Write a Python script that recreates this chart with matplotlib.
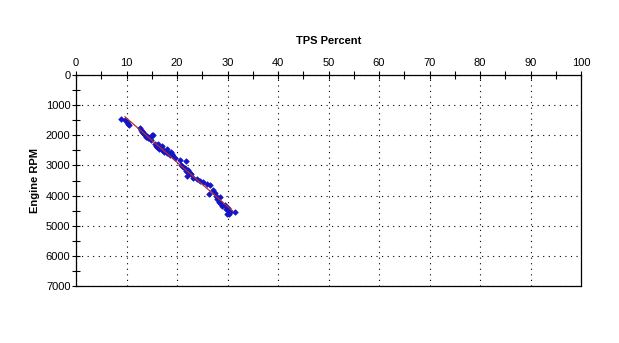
import numpy as np
import matplotlib
matplotlib.use("Agg")
import matplotlib.pyplot as plt
from matplotlib.ticker import MultipleLocator

tps = [8.9, 9.8, 10.0, 10.2, 10.4,
       12.6, 12.8, 13.0, 13.2, 13.4, 13.6, 13.8, 14.0, 14.3, 14.6, 15.0, 15.3, 14.8,
       15.6, 15.8, 16.0, 16.2, 16.5, 16.8, 17.0, 17.3, 17.5, 17.8, 18.0, 18.3, 18.6,
       19.0, 19.3, 19.6, 16.3, 17.0, 18.0, 18.8,
       20.6, 21.8, 20.8, 21.2, 21.5, 21.8, 22.2, 22.5, 22.0, 22.8, 23.2, 24.0, 24.5,
       25.2, 26.0, 26.5, 26.3, 27.2, 27.5, 27.8, 28.0, 28.3, 28.6, 29.0, 29.5, 29.8,
       30.0, 30.3, 30.5, 29.9, 30.2, 31.5, 28.5]
rpm = [1460, 1500, 1560, 1620, 1650,
       1760, 1820, 1880, 1900, 1950, 2000, 2050, 2020, 2080, 2100, 2000, 1980, 2150,
       2300, 2350, 2400, 2380, 2450, 2420, 2500, 2480, 2550, 2520, 2600, 2580, 2650,
       2620, 2700, 2750, 2300, 2350, 2450, 2550,
       2820, 2850, 3000, 3050, 3100, 3200, 3150, 3250, 3350, 3300, 3420, 3450, 3500,
       3550, 3600, 3650, 3950, 3800, 3900, 4000, 4100, 4200, 4250, 4350, 4300, 4450,
       4400, 4500, 4550, 4600, 4620, 4550, 4050]

x_ticks = list(range(0, 101, 10))
y_ticks = list(range(0, 7001, 1000))

plt.rcParams['font.family'] = ['Liberation Sans', 'DejaVu Sans']

fig = plt.figure(figsize=(6.19, 3.43), dpi=100)
ax = fig.add_axes([76/619, 1-286/343, 505/619, 211/343])

ax.set_xlim(0, 100)
ax.set_ylim(7000, 0)
ax.xaxis.tick_top()
ax.xaxis.set_label_position('top')
ax.set_xticks(x_ticks)
ax.set_yticks(y_ticks)
ax.xaxis.set_minor_locator(MultipleLocator(5))
ax.yaxis.set_minor_locator(MultipleLocator(500))
ax.tick_params(axis='both', which='both', direction='inout', length=6, width=0.8,
               labelsize=8, colors='black')
ax.tick_params(axis='x', pad=2)
ax.tick_params(axis='y', pad=1)
for s in ax.spines.values():
    s.set_linewidth(0.9)
    s.set_color('black')

ax.grid(True, which='major', color='black', linestyle=(0, (1, 4)), linewidth=0.8)
ax.set_axisbelow(True)

ax.set_xlabel('TPS Percent', fontsize=8, fontweight='bold', labelpad=10)
ax.set_ylabel('Engine RPM', fontsize=8, fontweight='bold', labelpad=4)

ax.scatter(tps, rpm, marker='D', s=8, color='#1414C8', edgecolors='#1414C8', linewidths=0.5, zorder=3)

coef = np.polyfit(tps, rpm, 1)
xs = np.array([min(tps) + 0.8, max(tps) - 0.5])
ax.plot(xs, np.polyval(coef, xs), color='#B03030', linewidth=0.9, zorder=4)

fig.savefig('out.png', dpi=100)
